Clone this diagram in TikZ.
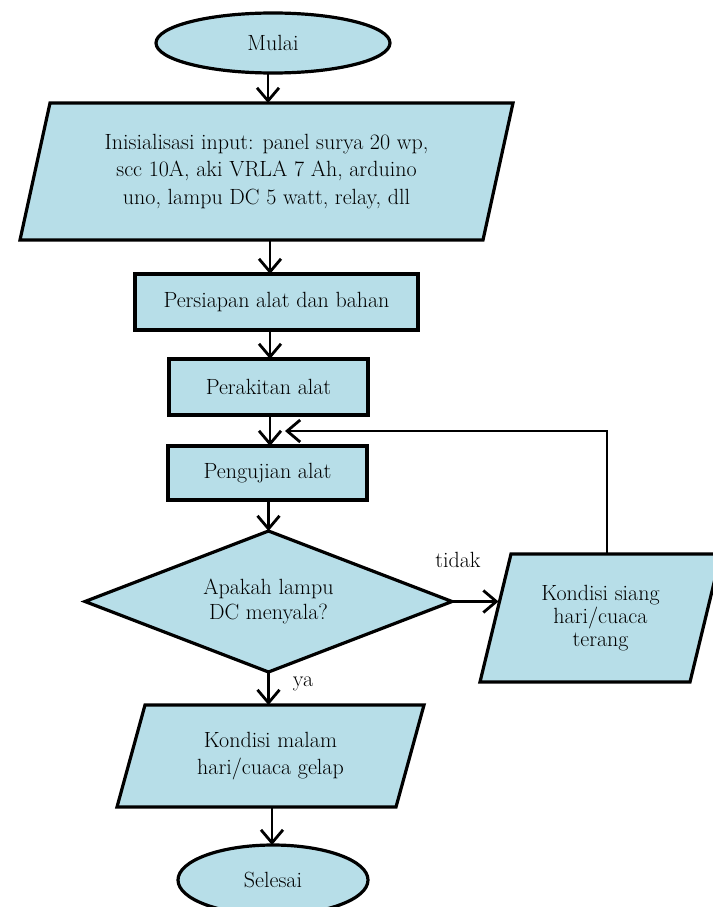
\documentclass[tikz,border=0pt]{standalone}
\usepackage{fontspec}
\usetikzlibrary{shapes.geometric,arrows.meta,calc,backgrounds}
\definecolor{fillc}{HTML}{B7DEE8}
\newcommand\txtA{\fontsize{22}{27.5}\selectfont}
\newcommand\txtB{\fontsize{22}{25}\selectfont}
\newcommand\txtC{\fontsize{22}{23}\selectfont}
\newcommand\paradraw[2]{%
  \begin{scope}[on background layer]
    \draw[shapeline] ($(#1.north west)+(#2/2,0)$) -- ($(#1.north east)+(#2/2,0)$)
      -- ($(#1.south east)-(#2/2,0)$) -- ($(#1.south west)-(#2/2,0)$) -- cycle;
  \end{scope}}
\newcommand\diadraw[1]{%
  \begin{scope}[on background layer]
    \draw[shapeline] (#1.north) -- (#1.east) -- (#1.south) -- (#1.west) -- cycle;
  \end{scope}}
\begin{document}
\begin{tikzpicture}[x=1pt,y=-1pt,
  shapeline/.style={draw, line width=3.2pt, fill=fillc, line join=miter},
  termbox/.style={shapeline, ellipse, inner sep=0pt, outer sep=0pt, font=\txtA},
  procbox/.style={shapeline, rectangle, inner sep=0pt, outer sep=0pt, align=center, font=\txtA},
  parabox/.style={rectangle, inner sep=0pt, outer sep=0pt, align=center},
  arr/.style={line width=2.8pt, -{Straight Barb[length=13pt,width=22pt,line width=2.8pt]}},
  lbl/.style={font=\txtA, inner sep=0pt}]
\useasboundingbox (0,0) rectangle (712,907);

\node[termbox, minimum width=234pt, minimum height=60pt] (start) at (273,43) {Mulai};

\node[parabox, font=\txtA, minimum width=463pt, minimum height=137pt] (in1) at (266.5,171.5)
  {Inisialisasi input: panel surya 20 wp,\\ scc 10A, aki VRLA 7 Ah, arduino\\ uno, lampu DC 5 watt, relay, dll};
\paradraw{in1}{30}

\node[procbox, minimum width=283pt, minimum height=56pt] (prep) at (276.5,302) {Persiapan alat dan bahan};
\node[procbox, minimum width=199pt, minimum height=56pt] (assem) at (268.5,387) {Perakitan alat};
\node[procbox, minimum width=199pt, minimum height=54pt] (test) at (267.5,473) {Pengujian alat};

\node[parabox, font=\txtB, minimum width=367pt, minimum height=141pt] (dec) at (268.5,601.5) {Apakah lampu\\ DC menyala?};
\diadraw{dec}

\node[parabox, font=\txtC, minimum width=210pt, minimum height=128pt] (day) at (600.5,618)
  {Kondisi siang\\ hari/cuaca\\ terang};
\paradraw{day}{31}

\node[parabox, font=\txtA, minimum width=279pt, minimum height=102pt] (night) at (270.5,756)
  {Kondisi malam\\ hari/cuaca gelap};
\paradraw{night}{28}

\node[termbox, minimum width=190pt, minimum height=70pt] (stop) at (273,880) {Selesai};

\coordinate (lp) at (607,431);
\coordinate (lpend) at (285,431);

\draw[arr] (start.south -| 268,0) -- (268,0 |- in1.north);
\draw[arr] (in1.south -| 270,0) -- (270,0 |- prep.north);
\draw[arr] (prep.south -| 270,0) -- (270,0 |- assem.north);
\draw[arr] (assem.south -| 270,0) -- (270,0 |- test.north);
\draw[arr] (test.south -| 268.5,0) -- (dec.north);
\draw[arr] (dec.south) -- (dec.south |- night.north);
\draw[arr] (night.south -| 272,0) -- (272,0 |- stop.north);
\draw[arr] (dec.east) -- ($(dec.east -| day.west)+(3,0)$);
\draw[arr, line width=2.5pt] (day.north -| lp) -- (lp) -- (lpend);

\node[lbl] (tidak) at (458,560) {tidak};
\node[lbl] (ya) at (303,684) {ya};
\end{tikzpicture}
\end{document}
